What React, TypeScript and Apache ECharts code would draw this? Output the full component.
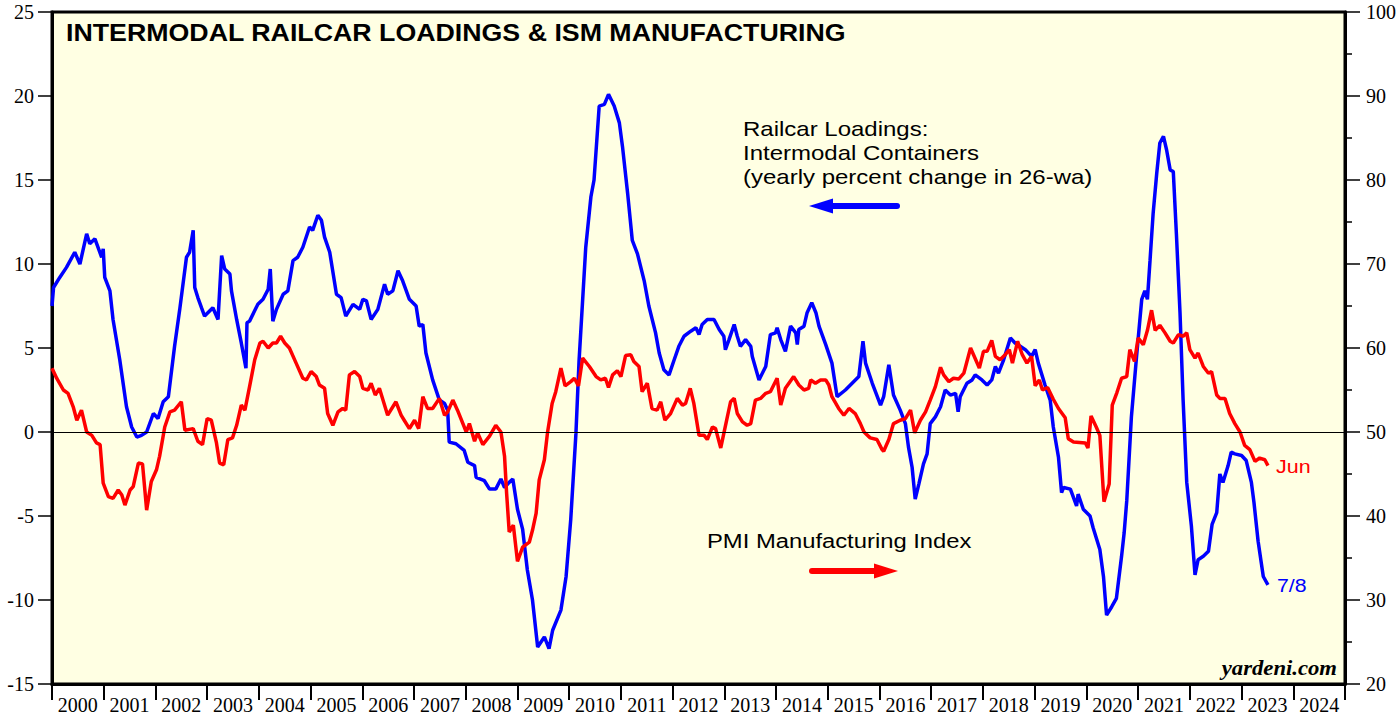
import React, { useEffect, useRef } from "react";
import * as echarts from "echarts";

const yearLabels = ["2000","2001","2002","2003","2004","2005","2006","2007","2008","2009","2010","2011","2012","2013","2014","2015","2016","2017","2018","2019","2020","2021","2022","2023","2024"];

// Railcar loadings: intermodal containers, yearly % change in 26-wa (left axis)
const railcar: [number, number][] = [
  [2000.00, 7.5],[2000.03, 8.6],[2000.15, 9.2],[2000.28, 9.8],[2000.44, 10.7],[2000.54, 10.0],[2000.67, 11.8],[2000.73, 11.2],[2000.83, 11.5],[2000.96, 10.4],[2000.99, 10.9],
  [2001.02, 9.2],[2001.12, 8.4],[2001.18, 6.7],[2001.31, 4.3],[2001.44, 1.5],[2001.54, 0.3],[2001.64, -0.3],[2001.73, -0.2],[2001.83, 0.0],[2001.96, 1.1],
  [2002.05, 0.8],[2002.15, 1.8],[2002.25, 2.1],[2002.37, 5.1],[2002.47, 7.3],[2002.60, 10.4],[2002.66, 10.7],[2002.73, 12.0],[2002.76, 8.6],[2002.82, 8.0],[2002.89, 7.4],[2002.95, 6.9],
  [2003.11, 7.4],[2003.21, 6.7],[2003.28, 10.5],[2003.34, 9.7],[2003.44, 9.4],[2003.47, 8.4],[2003.57, 6.7],[2003.66, 5.3],[2003.75, 3.8],[2003.77, 6.5],[2003.82, 6.6],[2003.98, 7.6],
  [2004.08, 7.9],[2004.18, 8.5],[2004.22, 9.7],[2004.27, 6.6],[2004.34, 7.3],[2004.47, 8.2],[2004.56, 8.4],[2004.66, 10.2],[2004.75, 10.4],[2004.85, 11.0],[2004.98, 12.2],
  [2005.04, 12.0],[2005.14, 12.9],[2005.21, 12.6],[2005.27, 11.6],[2005.37, 10.7],[2005.50, 8.2],[2005.59, 8.0],[2005.68, 6.9],[2005.82, 7.6],[2005.95, 7.3],
  [2006.01, 7.9],[2006.08, 7.8],[2006.17, 6.7],[2006.30, 7.3],[2006.43, 8.8],[2006.49, 8.2],[2006.59, 8.4],[2006.69, 9.6],[2006.78, 9.0],[2006.91, 7.9],
  [2007.04, 7.5],[2007.10, 6.3],[2007.17, 6.4],[2007.23, 4.7],[2007.36, 3.1],[2007.49, 1.9],[2007.59, 1.7],[2007.65, 1.3],[2007.68, -0.6],[2007.81, -0.7],[2007.97, -1.1],
  [2008.04, -1.8],[2008.17, -2.0],[2008.20, -2.7],[2008.36, -2.9],[2008.46, -3.4],[2008.58, -3.4],[2008.68, -2.8],[2008.75, -3.3],[2008.84, -3.0],[2008.91, -2.8],
  [2009.00, -4.6],[2009.10, -5.8],[2009.19, -8.2],[2009.29, -10.0],[2009.39, -12.8],[2009.52, -12.2],[2009.61, -12.9],[2009.68, -11.8],[2009.84, -10.6],[2009.94, -8.6],
  [2010.03, -5.2],[2010.13, -0.1],[2010.19, 4.2],[2010.32, 11.0],[2010.42, 14.0],[2010.48, 15.0],[2010.58, 19.4],[2010.68, 19.5],[2010.76, 20.1],[2010.87, 19.4],[2010.97, 18.4],
  [2011.03, 17.0],[2011.13, 14.2],[2011.22, 11.4],[2011.32, 10.6],[2011.45, 9.0],[2011.54, 7.5],[2011.67, 5.9],[2011.74, 4.7],[2011.83, 3.7],[2011.93, 3.4],
  [2012.03, 4.3],[2012.12, 5.1],[2012.22, 5.7],[2012.35, 6.0],[2012.45, 6.2],[2012.51, 5.8],[2012.57, 6.4],[2012.67, 6.7],[2012.80, 6.7],[2012.90, 6.1],[2012.99, 5.7],
  [2013.02, 4.9],[2013.09, 5.5],[2013.19, 6.4],[2013.25, 5.7],[2013.31, 5.1],[2013.41, 5.5],[2013.51, 5.1],[2013.54, 4.5],[2013.67, 3.1],[2013.80, 3.9],[2013.89, 5.8],[2013.99, 5.9],
  [2014.02, 6.2],[2014.09, 5.5],[2014.18, 4.8],[2014.28, 6.3],[2014.38, 5.9],[2014.41, 5.2],[2014.44, 6.1],[2014.54, 6.3],[2014.60, 7.1],[2014.69, 7.7],[2014.77, 7.1],[2014.83, 6.3],[2014.96, 5.2],
  [2015.08, 4.1],[2015.18, 2.1],[2015.34, 2.5],[2015.47, 2.9],[2015.60, 3.3],[2015.68, 5.4],[2015.73, 4.1],[2015.86, 2.9],
  [2016.02, 1.6],[2016.08, 2.1],[2016.18, 4.0],[2016.27, 2.2],[2016.40, 1.3],[2016.50, 0.5],[2016.56, -0.9],[2016.63, -2.1],[2016.69, -4.0],[2016.76, -3.1],[2016.85, -1.9],[2016.92, -1.3],[2016.98, 0.5],
  [2017.08, 0.9],[2017.18, 1.5],[2017.27, 2.5],[2017.37, 2.2],[2017.47, 2.3],[2017.52, 1.2],[2017.56, 2.1],[2017.69, 2.9],[2017.79, 3.1],[2017.85, 3.4],[2017.98, 3.1],
  [2018.08, 2.8],[2018.17, 3.1],[2018.24, 3.9],[2018.30, 3.5],[2018.40, 4.3],[2018.53, 5.6],[2018.62, 5.3],[2018.72, 5.1],[2018.82, 4.9],[2018.94, 4.5],
  [2019.01, 4.9],[2019.07, 4.1],[2019.20, 2.8],[2019.30, 1.9],[2019.36, 0.3],[2019.46, -1.5],[2019.52, -3.6],[2019.56, -3.3],[2019.69, -3.4],[2019.81, -4.4],[2019.84, -3.7],[2019.94, -4.6],
  [2020.07, -5.0],[2020.13, -5.7],[2020.26, -7.0],[2020.33, -8.6],[2020.39, -10.9],[2020.49, -10.4],[2020.58, -9.9],[2020.68, -7.4],[2020.73, -6.0],[2020.78, -4.1],[2020.87, 0.9],[2020.97, 4.5],
  [2021.07, 7.9],[2021.13, 8.4],[2021.18, 7.9],[2021.23, 10.2],[2021.29, 13.0],[2021.36, 15.4],[2021.42, 17.2],[2021.49, 17.6],[2021.55, 16.8],[2021.62, 15.6],[2021.68, 15.5],[2021.74, 11.8],[2021.81, 7.1],[2021.87, 1.9],[2021.94, -3.0],
  [2022.03, -5.6],[2022.10, -8.5],[2022.16, -7.6],[2022.26, -7.4],[2022.36, -7.1],[2022.43, -5.5],[2022.52, -4.8],[2022.58, -2.5],[2022.64, -3.0],[2022.74, -2.0],[2022.80, -1.2],[2022.87, -1.3],
  [2023.00, -1.4],[2023.09, -1.7],[2023.19, -3.0],[2023.24, -4.2],[2023.32, -6.5],[2023.42, -8.6],[2023.51, -9.1]
];

// ISM manufacturing PMI (right axis)
const pmi: [number, number][] = [
  [2000.00, 57.6],[2000.09, 56.4],[2000.22, 55.0],[2000.31, 54.6],[2000.41, 53.0],[2000.48, 51.4],[2000.57, 52.6],[2000.67, 50.0],[2000.77, 49.6],[2000.86, 48.7],[2000.93, 48.5],[2000.99, 43.9],
  [2001.09, 42.3],[2001.18, 42.1],[2001.28, 43.1],[2001.35, 42.5],[2001.41, 41.3],[2001.51, 43.1],[2001.57, 43.5],[2001.67, 46.3],[2001.75, 46.2],[2001.83, 40.7],[2001.92, 44.1],
  [2002.02, 45.5],[2002.08, 47.1],[2002.18, 50.6],[2002.28, 52.4],[2002.37, 52.6],[2002.50, 53.6],[2002.57, 50.2],[2002.73, 50.4],[2002.82, 48.9],[2002.91, 48.5],
  [2003.00, 51.6],[2003.08, 51.4],[2003.18, 48.7],[2003.24, 46.3],[2003.32, 46.1],[2003.40, 49.1],[2003.49, 49.3],[2003.57, 50.8],[2003.66, 53.2],[2003.73, 52.6],[2003.82, 55.4],[2003.92, 58.6],
  [2004.02, 60.6],[2004.08, 60.8],[2004.18, 60.0],[2004.27, 60.6],[2004.34, 60.6],[2004.42, 61.4],[2004.50, 60.6],[2004.59, 60.0],[2004.72, 58.2],[2004.85, 56.4],[2004.92, 56.2],
  [2005.01, 57.2],[2005.11, 56.6],[2005.17, 55.6],[2005.27, 55.2],[2005.33, 52.2],[2005.43, 50.8],[2005.53, 52.4],[2005.62, 52.8],[2005.68, 52.6],[2005.75, 56.8],[2005.85, 57.2],[2005.95, 56.6],
  [2006.01, 55.2],[2006.11, 55.0],[2006.17, 55.8],[2006.25, 54.4],[2006.33, 55.2],[2006.49, 52.0],[2006.65, 53.6],[2006.75, 52.0],[2006.81, 51.4],[2006.91, 50.4],
  [2007.01, 51.4],[2007.09, 50.4],[2007.17, 54.2],[2007.26, 52.8],[2007.36, 52.8],[2007.49, 54.0],[2007.59, 52.0],[2007.65, 52.4],[2007.75, 53.8],[2007.84, 52.6],
  [2008.01, 50.0],[2008.07, 51.0],[2008.17, 48.9],[2008.23, 49.9],[2008.33, 48.5],[2008.46, 49.5],[2008.58, 50.8],[2008.68, 50.0],[2008.75, 47.1],[2008.79, 42.7],[2008.84, 38.1],[2008.92, 38.9],
  [2009.00, 34.6],[2009.10, 36.3],[2009.23, 36.9],[2009.29, 38.3],[2009.36, 40.3],[2009.42, 44.3],[2009.52, 46.7],[2009.58, 49.9],[2009.67, 53.4],[2009.74, 54.8],[2009.84, 57.6],[2009.92, 55.5],
  [2010.03, 56.0],[2010.10, 56.4],[2010.18, 55.5],[2010.26, 58.8],[2010.39, 57.8],[2010.52, 56.6],[2010.61, 56.2],[2010.70, 56.4],[2010.76, 55.3],[2010.84, 56.8],[2010.93, 57.3],
  [2011.00, 56.6],[2011.09, 59.1],[2011.19, 59.2],[2011.25, 58.4],[2011.35, 57.8],[2011.41, 54.8],[2011.51, 55.8],[2011.60, 52.8],[2011.70, 52.6],[2011.77, 53.6],[2011.85, 51.4],[2011.96, 52.2],
  [2012.09, 54.0],[2012.19, 53.2],[2012.25, 53.4],[2012.34, 55.2],[2012.41, 53.4],[2012.51, 49.6],[2012.61, 49.6],[2012.67, 49.1],[2012.77, 50.6],[2012.83, 50.4],[2012.93, 48.1],
  [2013.03, 51.0],[2013.12, 53.6],[2013.19, 54.0],[2013.25, 52.2],[2013.35, 51.2],[2013.44, 50.8],[2013.51, 51.0],[2013.60, 53.8],[2013.70, 54.0],[2013.80, 54.6],[2013.89, 54.8],
  [2014.02, 56.4],[2014.09, 53.2],[2014.18, 55.2],[2014.34, 56.6],[2014.44, 55.6],[2014.54, 55.0],[2014.63, 55.2],[2014.67, 56.2],[2014.76, 55.8],[2014.86, 56.2],[2014.96, 56.2],
  [2015.02, 55.6],[2015.08, 54.2],[2015.21, 52.8],[2015.31, 52.0],[2015.41, 52.8],[2015.53, 52.2],[2015.63, 51.0],[2015.70, 50.0],[2015.82, 49.3],[2015.95, 49.1],
  [2016.05, 47.9],[2016.08, 47.7],[2016.18, 49.1],[2016.27, 51.0],[2016.40, 51.4],[2016.50, 51.6],[2016.60, 52.6],[2016.68, 49.9],[2016.79, 51.4],[2016.89, 52.4],[2016.98, 53.8],
  [2017.08, 55.4],[2017.18, 57.7],[2017.24, 56.8],[2017.34, 56.0],[2017.43, 56.4],[2017.53, 56.3],[2017.63, 57.0],[2017.76, 60.0],[2017.86, 58.6],[2017.93, 57.6],
  [2018.01, 59.6],[2018.08, 59.6],[2018.17, 60.9],[2018.24, 59.0],[2018.33, 58.6],[2018.43, 59.2],[2018.51, 59.8],[2018.57, 58.2],[2018.67, 60.8],[2018.76, 59.2],[2018.85, 58.2],[2018.94, 59.0],
  [2019.01, 55.5],[2019.09, 56.2],[2019.15, 55.0],[2019.25, 55.3],[2019.36, 53.9],[2019.46, 52.8],[2019.59, 51.7],[2019.65, 49.2],[2019.75, 48.8],[2019.98, 48.7],
  [2020.03, 48.1],[2020.09, 51.9],[2020.19, 50.6],[2020.26, 49.6],[2020.34, 41.7],[2020.44, 43.8],[2020.50, 53.2],[2020.59, 54.7],[2020.68, 56.4],[2020.78, 56.6],[2020.84, 59.8],[2020.93, 58.4],
  [2021.00, 61.2],[2021.10, 60.4],[2021.18, 62.1],[2021.26, 64.5],[2021.33, 62.1],[2021.42, 62.7],[2021.52, 61.8],[2021.62, 60.8],[2021.68, 60.6],[2021.78, 61.6],[2021.87, 61.4],[2021.94, 61.8],
  [2022.00, 59.8],[2022.10, 58.8],[2022.16, 59.4],[2022.26, 57.8],[2022.36, 57.0],[2022.42, 57.2],[2022.52, 54.4],[2022.58, 54.0],[2022.68, 54.0],[2022.77, 52.2],[2022.87, 51.0],[2022.97, 50.0],
  [2023.06, 48.4],[2023.16, 47.9],[2023.26, 46.5],[2023.35, 46.9],[2023.45, 46.7],[2023.51, 46.0]
];

const serif = "'Liberation Serif', 'Times New Roman', serif";
const sans = "'Liberation Sans', Arial, sans-serif";

export default function App() {
  const ref = useRef<HTMLDivElement>(null);
  useEffect(() => {
    if (!ref.current) return;
    const chart = echarts.init(ref.current, undefined, { renderer: "svg" });
    const txt = (text: string, x: number, y: number, font: string, fill: string, sx: number, align = "left") => ({
      type: "text", x, y, scaleX: sx, scaleY: 1,
      style: { text, font, fill, textAlign: align, textVerticalAlign: "middle" },
    });
    chart.setOption({
      animation: false,
      backgroundColor: "#ffffff",
      grid: {
        left: 52, top: 12, right: 52, bottom: 33,
        show: true, backgroundColor: "#FFFFE3", borderColor: "#000", borderWidth: 3,
      },
      xAxis: [
        { type: "value", min: 2000, max: 2025, show: false },
        {
          type: "category", data: yearLabels, position: "bottom", boundaryGap: true,
          axisLine: { show: true, lineStyle: { color: "#000", width: 3 } },
          axisTick: { show: true, interval: 0, length: 16, lineStyle: { color: "#000", width: 2 } },
          axisLabel: { color: "#000", fontFamily: serif, fontSize: 20, margin: 11, align: "center", interval: 0, hideOverlap: false },
          splitLine: { show: false },
        },
      ],
      yAxis: [
        {
          type: "value", min: -15, max: 25, interval: 5, position: "left",
          axisLine: { show: true, lineStyle: { color: "#000", width: 3 } },
          axisTick: { show: true, length: 14, lineStyle: { color: "#000", width: 1.5 } },
          axisLabel: { color: "#000", fontFamily: serif, fontSize: 20, margin: 18 },
          splitLine: { show: false },
        },
        {
          type: "value", min: 20, max: 100, interval: 10, position: "right",
          axisLine: { show: true, lineStyle: { color: "#000", width: 3 } },
          axisTick: { show: true, length: 15, lineStyle: { color: "#000", width: 1.5 } },
          minorTick: { show: true, splitNumber: 2, length: 7, lineStyle: { color: "#000", width: 1.5 } },
          axisLabel: { color: "#000", fontFamily: serif, fontSize: 20, margin: 21 },
          splitLine: { show: false },
        },
      ],
      series: [
        {
          name: "Railcar Loadings", type: "line", xAxisIndex: 0, yAxisIndex: 0,
          data: railcar, showSymbol: false, lineStyle: { color: "#0000FF", width: 3.5 },
          itemStyle: { color: "#0000FF" },
          markLine: {
            silent: true, symbol: "none", label: { show: false },
            lineStyle: { color: "#000", width: 1, type: "solid" },
            data: [{ yAxis: 0 }],
          },
        },
        {
          name: "PMI", type: "line", xAxisIndex: 0, yAxisIndex: 1,
          data: pmi, showSymbol: false, lineStyle: { color: "#FF0000", width: 3.5 },
          itemStyle: { color: "#FF0000" },
        },
      ],
      graphic: [
        txt("INTERMODAL RAILCAR LOADINGS & ISM MANUFACTURING", 66, 33, `bold 24px ${sans}`, "#000", 1.115),
        txt("Railcar Loadings:", 743, 129, `20px ${sans}`, "#000", 1.2),
        txt("Intermodal Containers", 743, 153, `20px ${sans}`, "#000", 1.2),
        txt("(yearly percent change in 26-wa)", 743, 177, `20px ${sans}`, "#000", 1.2),
        { type: "line", shape: { x1: 830, y1: 206, x2: 897, y2: 206 }, style: { stroke: "#0000FF", lineWidth: 6, lineCap: "round" } },
        { type: "polygon", shape: { points: [[809, 206], [833, 198.5], [833, 213.5]] }, style: { fill: "#0000FF" } },
        txt("PMI Manufacturing Index", 707, 541, `20px ${sans}`, "#000", 1.19),
        { type: "line", shape: { x1: 812, y1: 571, x2: 876, y2: 571 }, style: { stroke: "#FF0000", lineWidth: 6, lineCap: "round" } },
        { type: "polygon", shape: { points: [[898, 571], [874, 563.5], [874, 578.5]] }, style: { fill: "#FF0000" } },
        txt("Jun", 1276, 466, `19px ${sans}`, "#FF0000", 1.13),
        txt("7/8", 1277, 585, `19px ${sans}`, "#0000FF", 1.12),
        txt("yardeni.com", 1337, 668, `italic bold 21px ${serif}`, "#000", 1.08, "right"),
      ],
    });
    return () => chart.dispose();
  }, []);
  return <div ref={ref} style={{ position: "absolute", left: 0, top: 0, width: 1399, height: 717 }} />;
}
